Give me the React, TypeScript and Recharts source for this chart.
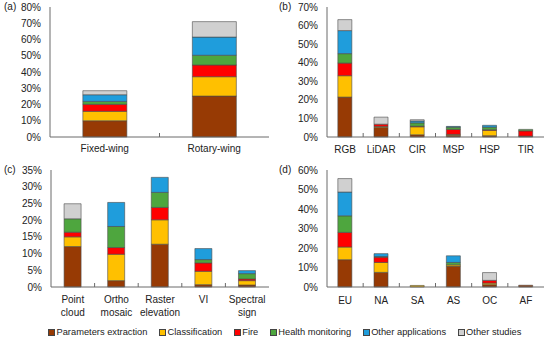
import React from "react";
import { Bar, BarChart, XAxis, YAxis } from "recharts";

// series (stack order bottom -> top)
const seriesKeys = ["pe", "cl", "fi", "hm", "oa", "os"];
const seriesNames = [
  "Parameters extraction",
  "Classification",
  "Fire",
  "Health monitoring",
  "Other applications",
  "Other studies",
];
const seriesColors = ["#973a04", "#ffc000", "#ff0000", "#4ea63e", "#1f9ddc", "#d0d0d0"];

// (a) platform
const platformCats = ["Fixed-wing", "Rotary-wing"];
const platformPe = [10.0, 25.2];
const platformCl = [5.8, 11.9];
const platformFi = [4.3, 7.2];
const platformHm = [1.8, 6.0];
const platformOa = [4.1, 11.2];
const platformOs = [2.5, 9.5];
const platformTicks = [0, 10, 20, 30, 40, 50, 60, 70, 80];

// (b) sensor
const sensorCats = ["RGB", "LiDAR", "CIR", "MSP", "HSP", "TIR"];
const sensorPe = [21.5, 5.2, 1.2, 0.9, 0.7, 0.5];
const sensorCl = [11.5, 0.5, 4.3, 0.5, 2.9, 0];
const sensorFi = [6.8, 1.2, 0.3, 2.7, 0.3, 2.8];
const sensorHm = [5.1, 0, 1.8, 1.2, 1.4, 0.8];
const sensorOa = [12.4, 0, 1.0, 0.4, 1.0, 0];
const sensorOs = [5.9, 3.8, 0.7, 0, 0, 0];
const sensorTicks = [0, 10, 20, 30, 40, 50, 60, 70];

// (c) product
const productCats = ["Point\ncloud", "Ortho\nmosaic", "Raster\nelevation", "VI", "Spectral\nsign"];
const productPe = [12.1, 1.9, 12.8, 0.7, 0.6];
const productCl = [2.9, 7.9, 7.3, 4.0, 1.3];
const productFi = [1.4, 2.0, 3.7, 2.5, 0.5];
const productHm = [4.0, 6.3, 4.5, 1.0, 1.6];
const productOa = [0, 7.2, 4.5, 3.3, 0.9];
const productOs = [4.5, 0, 0, 0, 0];
const productTicks = [0, 5, 10, 15, 20, 25, 30, 35];

// (d) region
const regionCats = ["EU", "NA", "SA", "AS", "OC", "AF"];
const regionPe = [14.0, 7.5, 0, 10.7, 1.2, 0.9];
const regionCl = [6.5, 5.1, 0.8, 0.7, 0.8, 0];
const regionFi = [7.5, 2.7, 0, 0, 1.4, 0];
const regionHm = [8.5, 0.3, 0, 1.2, 0, 0];
const regionOa = [12.2, 1.5, 0, 3.4, 0, 0];
const regionOs = [6.9, 0, 0, 0, 4.0, 0];
const regionTicks = [0, 10, 20, 30, 40, 50, 60];

const FONT = '"Liberation Sans", Arial, sans-serif';
const FRAME = "#6a6a6a";

function rows(cats: string[], cols: number[][]) {
  return cats.map((name, i) => {
    const r: any = { name };
    seriesKeys.forEach((k, j) => (r[k] = cols[j][i]));
    return r;
  });
}

function Panel(props: {
  label: string;
  cats: string[];
  cols: number[][];
  ticks: number[];
  left: number;
  top: number;
  height: number;
  yWidth: number;
  marginTop: number;
  xHeight: number;
  dy: number;
}) {
  const { label, cats, cols, ticks, left, top, height, yWidth, marginTop, xHeight, dy } = props;
  const width = 275;
  const right = 6;
  const band = (width - yWidth - right) / cats.length;
  const max = ticks[ticks.length - 1];

  const renderTick = (p: any) => {
    const { x, y, payload, index } = p;
    const lines = String(payload.value).split("\n");
    return (
      <g>
        {index > 0 && (
          <line x1={x - band / 2} x2={x - band / 2} y1={y} y2={y - 4} stroke={FRAME} />
        )}
        <text x={x} y={y} textAnchor="middle" fontSize={10} fill="#222" fontFamily={FONT}>
          {lines.map((t, i) => (
            <tspan key={i} x={x} dy={i === 0 ? dy : 12.5}>
              {t}
            </tspan>
          ))}
        </text>
      </g>
    );
  };

  return (
    <div style={{ position: "absolute", left, top, width, height }}>
      <BarChart
        width={width}
        height={height}
        data={rows(cats, cols)}
        margin={{ top: marginTop, right, left: 0, bottom: 0 }}
        barCategoryGap="30%"
      >
        <XAxis
          dataKey="name"
          height={xHeight}
          interval={0}
          tickSize={0}
          tickMargin={0}
          tick={renderTick}
          axisLine={{ stroke: FRAME }}
        />
        <XAxis xAxisId="top" dataKey="name" orientation="top" height={0} tick={false} tickLine={false} axisLine={{ stroke: FRAME }} />
        <YAxis
          width={yWidth}
          domain={[0, max]}
          ticks={ticks}
          interval={0}
          tickSize={0}
          tickMargin={9}
          tickLine={false}
          axisLine={{ stroke: FRAME }}
          tickFormatter={(v: number) => `${v}%`}
          tick={{ fontSize: 10, fill: "#222", fontFamily: FONT }}
        />
        <YAxis yAxisId="right" orientation="right" width={0} domain={[0, max]} tick={false} tickLine={false} axisLine={{ stroke: FRAME }} />
        {seriesKeys.map((k, i) => (
          <Bar
            key={k}
            dataKey={k}
            name={seriesNames[i]}
            stackId="s"
            fill={seriesColors[i]}
            stroke="#4a4a4a"
            strokeWidth={0.6}
            isAnimationActive={false}
          />
        ))}
      </BarChart>
      <div
        style={{
          position: "absolute",
          left: 4,
          top: marginTop - 6,
          fontSize: 10,
          lineHeight: "12px",
          fontFamily: FONT,
          color: "#222",
        }}
      >
        {label}
      </div>
    </div>
  );
}

export default function App() {
  return (
    <div
      style={{
        position: "absolute",
        left: 0,
        top: 0,
        width: 550,
        height: 342,
        background: "#fff",
        fontFamily: FONT,
      }}
    >
      <Panel
        label="(a)"
        cats={platformCats}
        cols={[platformPe, platformCl, platformFi, platformHm, platformOa, platformOs]}
        ticks={platformTicks}
        left={0}
        top={0}
        height={160}
        yWidth={50}
        marginTop={7}
        xHeight={23}
        dy={15}
      />
      <Panel
        label="(b)"
        cats={sensorCats}
        cols={[sensorPe, sensorCl, sensorFi, sensorHm, sensorOa, sensorOs]}
        ticks={sensorTicks}
        left={275}
        top={0}
        height={160}
        yWidth={52}
        marginTop={7}
        xHeight={23}
        dy={15.5}
      />
      <Panel
        label="(c)"
        cats={productCats}
        cols={[productPe, productCl, productFi, productHm, productOa, productOs]}
        ticks={productTicks}
        left={0}
        top={160}
        height={165}
        yWidth={51}
        marginTop={10}
        xHeight={38}
        dy={16}
      />
      <Panel
        label="(d)"
        cats={regionCats}
        cols={[regionPe, regionCl, regionFi, regionHm, regionOa, regionOs]}
        ticks={regionTicks}
        left={275}
        top={160}
        height={165}
        yWidth={52}
        marginTop={10}
        xHeight={38}
        dy={16.5}
      />
      <div
        style={{
          position: "absolute",
          left: 48,
          top: 326,
          display: "flex",
          gap: 11.5,
          fontSize: 9.3,
          lineHeight: "12px",
          color: "#222",
          whiteSpace: "nowrap",
        }}
      >
        {seriesNames.map((n, i) => (
          <div key={n} style={{ display: "flex", alignItems: "center" }}>
            <span
              style={{
                display: "inline-block",
                width: 5,
                height: 5,
                background: seriesColors[i],
                border: "1px solid #444",
                marginRight: 1.5,
              }}
            />
            {n}
          </div>
        ))}
      </div>
    </div>
  );
}
